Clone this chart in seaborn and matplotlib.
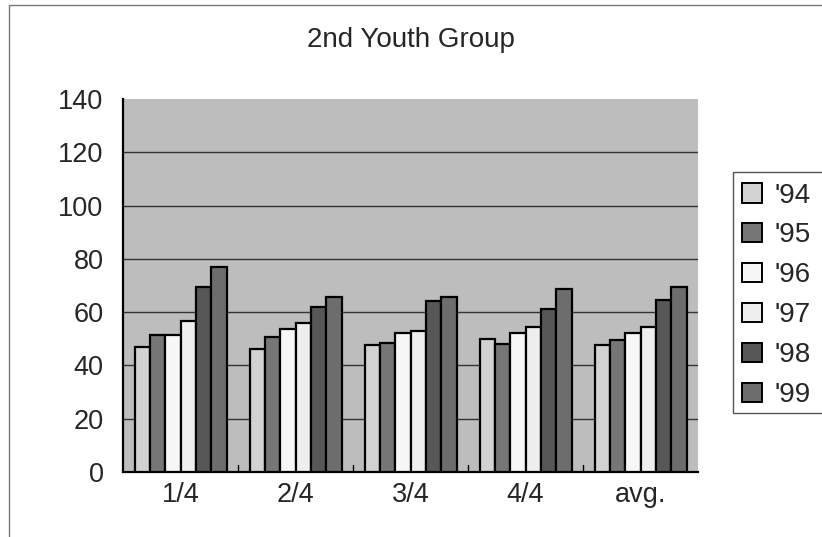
import matplotlib
matplotlib.use("Agg")
import matplotlib.pyplot as plt
from matplotlib.patches import Rectangle, Patch
from matplotlib.lines import Line2D
import seaborn as sns
import pandas as pd

quarters = ["1/4", "2/4", "3/4", "4/4", "avg."]
years = ["'94", "'95", "'96", "'97", "'98", "'99"]
v94 = [47.0, 46.1, 47.6, 50.1, 47.7]
v95 = [51.3, 50.5, 48.3, 48.0, 49.5]
v96 = [51.3, 53.6, 52.0, 52.0, 52.0]
v97 = [56.6, 55.8, 53.0, 54.3, 54.5]
v98 = [69.3, 62.0, 64.2, 61.1, 64.5]
v99 = [77.0, 65.7, 65.7, 68.6, 69.5]
yticks = [0, 20, 40, 60, 80, 100, 120, 140]

series = [v94, v95, v96, v97, v98, v99]
rows = []
for yr, vals in zip(years, series):
    for q, v in zip(quarters, vals):
        rows.append({"quarter": q, "year": yr, "value": v})
df = pd.DataFrame(rows)

colors = ["#d2d2d2", "#767676", "#f7f7f7", "#eeeeee", "#575757", "#6d6d6d"]
palette = dict(zip(years, colors))

sns.set_theme(style="white")
plt.rcParams["font.family"] = ["Liberation Sans", "DejaVu Sans"]

fig = plt.figure(figsize=(8.22, 5.37), dpi=100)
ax = fig.add_axes([123 / 822, 1 - 472 / 537, 575 / 822, 373 / 537])
ax.set_facecolor("#bdbdbd")

sns.barplot(data=df, x="quarter", y="value", hue="year", order=quarters,
            hue_order=years, palette=palette, width=0.8, edgecolor="black",
            linewidth=1.6, saturation=1, errorbar=None, ax=ax, legend=False,
            zorder=3)

ax.set_ylim(0, 140)
ax.set_yticks(yticks)
ax.set_yticklabels([str(t) for t in yticks], fontsize=19.5)
ax.set_xlim(-0.5, len(quarters) - 0.5)
ax.tick_params(axis="x", labelsize=19.5, pad=7, length=0)
ax.tick_params(axis="y", pad=14, length=0)
ax.set_xlabel("")
ax.set_ylabel("")
for t in yticks[1:-1]:
    ax.axhline(t, color="#333333", linewidth=1.0, zorder=1)
for b in range(1, len(quarters)):
    ax.plot([b - 0.5, b - 0.5], [0, 2.5], color="black", linewidth=1.0, zorder=2)
for side in ("top", "right"):
    ax.spines[side].set_visible(False)
for side in ("left", "bottom"):
    ax.spines[side].set_color("black")
    ax.spines[side].set_linewidth(1.6)

fig.text(411 / 822, 1 - 40 / 537, "2nd Youth Group", ha="center", va="center",
         fontsize=20)

# chart-area border lines
fig.add_artist(Line2D([9 / 822, 9 / 822], [0, 1 - 5 / 537], color="#777777", linewidth=1.0))
fig.add_artist(Line2D([9 / 822, 1], [1 - 5 / 537, 1 - 5 / 537], color="#777777", linewidth=1.0))

# legend frame running off the right edge
fig.add_artist(Rectangle((733 / 822, 1 - 413 / 537), 100 / 822, 241 / 537,
                         transform=fig.transFigure, facecolor="white",
                         edgecolor="#555555", linewidth=1.0))
handles = [Patch(facecolor=palette[y], edgecolor="black", linewidth=1.4) for y in years]
fig.legend(handles, years, loc="upper left",
           bbox_to_anchor=(736 / 822, 1 - 177 / 537), frameon=False,
           fontsize=20, handlelength=0.75, handleheight=0.7, handletextpad=0.45,
           labelspacing=0.5, borderpad=0.2, borderaxespad=0)

fig.savefig("out.png", dpi=100)
